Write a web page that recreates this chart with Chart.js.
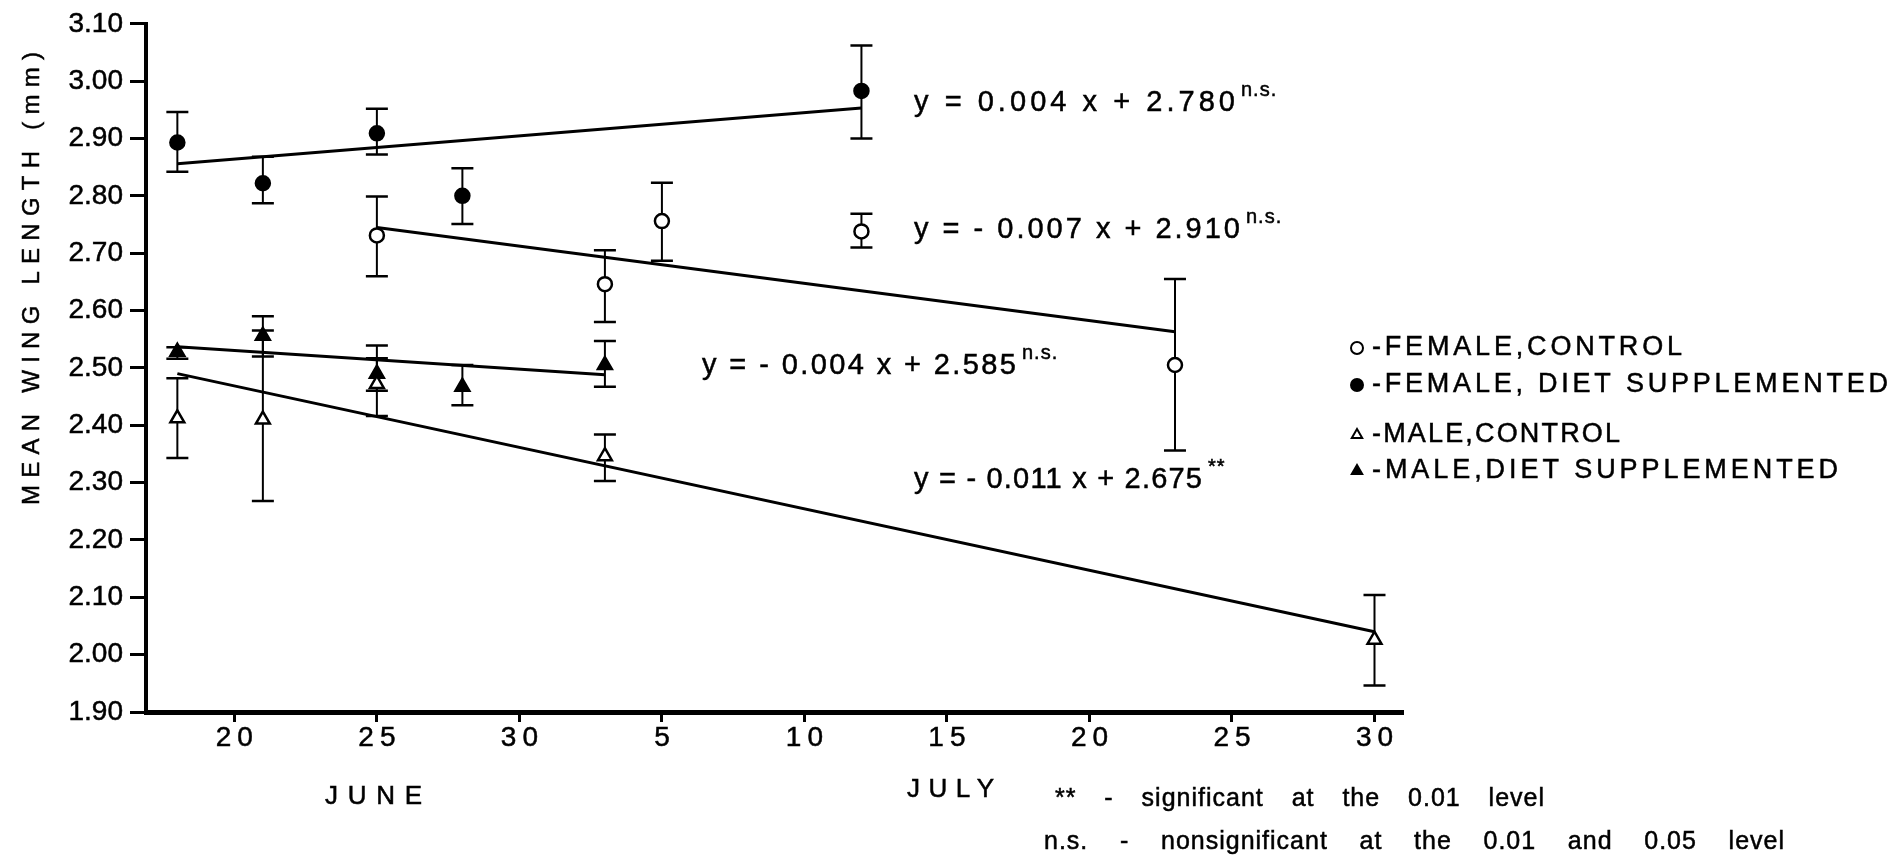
<!DOCTYPE html>
<html>
<head>
<meta charset="utf-8">
<script src="https://cdn.jsdelivr.net/npm/chart.js@4.4.1/dist/chart.umd.min.js"></script>
<style>
  html, body { margin: 0; padding: 0; background: #fff; }
  #wrap { position: relative; width: 1898px; height: 858px; }
</style>
</head>
<body>
<div id="wrap"><canvas id="wing"></canvas></div>
<script>
// days counted from 1 June (so 3 July = 33)
const femaleControlDays = [25, 33, 35, 42, 53];
const femaleControlMean = [2.731, 2.646, 2.756, 2.738, 2.505];
const femaleControlLo   = [2.660, 2.580, 2.687, 2.710, 2.356];
const femaleControlHi   = [2.799, 2.705, 2.823, 2.769, 2.655];

const femaleDietDays = [18, 21, 25, 28, 42];
const femaleDietMean = [2.893, 2.822, 2.909, 2.800, 2.983];
const femaleDietLo   = [2.842, 2.787, 2.872, 2.751, 2.900];
const femaleDietHi   = [2.946, 2.868, 2.952, 2.848, 3.062];

const maleControlDays = [18, 21, 25, 33, 60];
const maleControlMean = [2.412, 2.410, 2.472, 2.346, 2.026];
const maleControlLo   = [2.343, 2.268, 2.416, 2.303, 1.946];
const maleControlHi   = [2.482, 2.565, 2.539, 2.384, 2.104];

const maleDietDays = [18, 21, 25, 28, 33];
const maleDietMean = [2.528, 2.556, 2.490, 2.467, 2.505];
const maleDietLo   = [2.516, 2.520, 2.460, 2.435, 2.467];
const maleDietHi   = [2.536, 2.590, 2.517, 2.505, 2.547];

// fitted lines: [start day, end day] and [start value, end value]
const femaleDietFitDays = [18, 42];
const femaleDietFitVals = [2.856, 2.953];
const femaleControlFitDays = [25, 53];
const femaleControlFitVals = [2.745, 2.563];
const maleDietFitDays = [18, 33];
const maleDietFitVals = [2.537, 2.488];
const maleControlFitDays = [18, 60];
const maleControlFitVals = [2.490, 2.040];

const seriesNames = ['FEMALE,CONTROL', 'FEMALE, DIET SUPPLEMENTED', 'MALE,CONTROL', 'MALE,DIET SUPPLEMENTED'];
const fitEquations = ['y = - 0.007 x + 2.910', 'y = 0.004 x + 2.780', 'y = - 0.011 x + 2.675', 'y = - 0.004 x + 2.585'];
const fitSignif = ['n.s.', 'n.s.', '**', 'n.s.'];

const xTickDays = [20, 25, 30, 35, 40, 45, 50, 55, 60];
const xTickLabels = ['20', '25', '30', '5', '10', '15', '20', '25', '30'];
const yTickLabels = ['1.90', '2.00', '2.10', '2.20', '2.30', '2.40', '2.50', '2.60', '2.70', '2.80', '2.90', '3.00', '3.10'];
const monthNames = ['JUNE', 'JULY'];
const footnotes = ['** - significant at the 0.01 level', 'n.s. - nonsignificant at the 0.01 and 0.05 level'];
const yTitle = 'MEAN WING LENGTH (mm)';

const FONT = "'Liberation Sans', Arial, sans-serif";

const series = [
  { days: femaleControlDays, mean: femaleControlMean, lo: femaleControlLo, hi: femaleControlHi, style: 'circle', filled: false, r: 7 },
  { days: femaleDietDays, mean: femaleDietMean, lo: femaleDietLo, hi: femaleDietHi, style: 'circle', filled: true, r: 7 },
  { days: maleControlDays, mean: maleControlMean, lo: maleControlLo, hi: maleControlHi, style: 'triangle', filled: false, r: 8 },
  { days: maleDietDays, mean: maleDietMean, lo: maleDietLo, hi: maleDietHi, style: 'triangle', filled: true, r: 8 },
];
const fits = [
  [femaleControlFitDays, femaleControlFitVals],
  [femaleDietFitDays, femaleDietFitVals],
  [maleControlFitDays, maleControlFitVals],
  [maleDietFitDays, maleDietFitVals],
];

const pointSets = series.map(s => ({
  data: s.days.map((d, i) => ({ x: d, y: s.mean[i] })),
  pointStyle: s.style,
  pointRadius: s.r,
  pointBackgroundColor: s.filled ? '#000' : '#fff',
  pointBorderColor: '#000',
  pointBorderWidth: 2.5,
  showLine: false,
}));
const lineSets = fits.map(([d, v]) => ({
  data: d.map((x, i) => ({ x, y: v[i] })),
  showLine: true,
  borderColor: '#000',
  borderWidth: 3,
  pointRadius: 0,
  fill: false,
}));

// filled and lightly stroked so the lettering reads like pen work
function inkText(ctx, text, x, y) {
  ctx.fillText(text, x, y);
  ctx.lineWidth = 0.5;
  ctx.strokeStyle = '#000';
  ctx.strokeText(text, x, y);
}

// left-aligned text stretched to a given width, by letters or by word gaps
function fitText(ctx, text, x, y, width, byWords) {
  ctx.letterSpacing = '0px';
  ctx.wordSpacing = '0px';
  if (byWords) {
    const n = (text.match(/ /g) || []).length || 1;
    ctx.letterSpacing = '1px';
    const w1 = ctx.measureText(text).width;
    ctx.wordSpacing = ((width - w1) / n) + 'px';
  } else {
    const w0 = ctx.measureText(text).width;
    ctx.letterSpacing = ((width - w0) / Math.max(1, text.length - 1)) + 'px';
  }
  inkText(ctx, text, x, y);
  ctx.letterSpacing = '0px';
  ctx.wordSpacing = '0px';
}

function spacedCentered(ctx, text, cx, y, spacing) {
  ctx.letterSpacing = spacing + 'px';
  const w = ctx.measureText(text).width - spacing;
  ctx.textAlign = 'left';
  inkText(ctx, text, cx - w / 2, y);
  ctx.letterSpacing = '0px';
}

const errorBars = {
  id: 'errorBars',
  beforeDatasetsDraw(chart) {
    const { ctx, scales: { x, y } } = chart;
    ctx.save();
    ctx.strokeStyle = '#000';
    series.forEach(s => {
      s.days.forEach((d, i) => {
        const px = x.getPixelForValue(d);
        const pLo = y.getPixelForValue(s.lo[i]);
        const pHi = y.getPixelForValue(s.hi[i]);
        ctx.lineWidth = 2;
        ctx.beginPath();
        ctx.moveTo(px, pLo);
        ctx.lineTo(px, pHi);
        ctx.stroke();
        ctx.lineWidth = 2.5;
        ctx.beginPath();
        ctx.moveTo(px - 11, pLo); ctx.lineTo(px + 11, pLo);
        ctx.moveTo(px - 11, pHi); ctx.lineTo(px + 11, pHi);
        ctx.stroke();
      });
    });
    ctx.restore();
  }
};

const annotations = {
  id: 'annotations',
  afterDraw(chart) {
    const { ctx, scales: { x } } = chart;
    ctx.save();
    ctx.fillStyle = '#000';
    ctx.textBaseline = 'middle';
    ctx.textAlign = 'left';

    // y axis title, rotated
    ctx.save();
    ctx.translate(32, 505);
    ctx.rotate(-Math.PI / 2);
    ctx.font = `24px ${FONT}`;
    fitText(ctx, yTitle, 0, 0, 453, false);
    ctx.restore();

    // x tick labels
    ctx.font = `28px ${FONT}`;
    xTickDays.forEach((d, i) => spacedCentered(ctx, xTickLabels[i], x.getPixelForValue(d), 738, 6));

    // month names
    ctx.font = `26px ${FONT}`;
    fitText(ctx, monthNames[0], 325, 797, 97, false);
    fitText(ctx, monthNames[1], 907, 790, 87, false);

    // regression equations with significance marks
    const eqPos = [
      { x: 914, y: 230, w: 326 },
      { x: 914, y: 103, w: 321 },
      { x: 914, y: 480, w: 288 },
      { x: 702, y: 366, w: 314 },
    ];
    fitEquations.forEach((eq, i) => {
      const p = eqPos[i];
      ctx.font = `29px ${FONT}`;
      fitText(ctx, eq, p.x, p.y, p.w, false);
      ctx.font = `20px ${FONT}`;
      ctx.letterSpacing = '1px';
      inkText(ctx, fitSignif[i], p.x + p.w + 6, p.y - 13);
      ctx.letterSpacing = '0px';
    });

    // legend
    const legY = [348, 385, 435, 471];
    const legW = [310, 516, 248, 466];
    series.forEach((s, i) => {
      ctx.fillStyle = s.filled ? '#000' : '#fff';
      ctx.strokeStyle = '#000';
      ctx.lineWidth = 2;
      Chart.helpers.drawPoint(ctx, { pointStyle: s.style, radius: 6, borderWidth: 2, rotation: 0 }, 1357, legY[i]);
      ctx.fillStyle = '#000';
      ctx.font = `27px ${FONT}`;
      fitText(ctx, '-' + seriesNames[i], 1372, legY[i], legW[i], false);
    });

    // footnotes
    ctx.font = `25px ${FONT}`;
    fitText(ctx, footnotes[0], 1055, 799, 490, true);
    fitText(ctx, footnotes[1], 1044, 842, 741, true);

    ctx.restore();
  }
};

Chart.defaults.font.family = FONT;
Chart.defaults.color = '#000';

new Chart(document.getElementById('wing'), {
  type: 'scatter',
  data: { datasets: [...pointSets, ...lineSets] },
  options: {
    responsive: true,
    maintainAspectRatio: false,
    animation: false,
    layout: { padding: { top: 23, right: 495, left: 0, bottom: 0 } },
    plugins: { legend: { display: false }, tooltip: { enabled: false } },
    scales: {
      x: {
        type: 'linear',
        min: 16.9,
        max: 61,
        afterBuildTicks: s => { s.ticks = xTickDays.map(v => ({ value: v })); },
        afterFit: s => { s.height = 146; },
        ticks: { display: false },
        grid: { display: true, drawOnChartArea: false, drawTicks: true, tickLength: 10, tickWidth: 3, tickColor: '#000' },
        border: { display: true, width: 5, color: '#000' },
      },
      y: {
        type: 'linear',
        min: 1.9,
        max: 3.1,
        afterBuildTicks: s => { s.ticks = yTickLabels.map(v => ({ value: parseFloat(v) })); },
        afterFit: s => { s.width = 146; },
        ticks: {
          padding: 7,
          font: { size: 28, family: FONT },
          color: '#000',
          textStrokeColor: '#000',
          textStrokeWidth: 0.5,
          autoSkip: false,
          callback: (v, i) => yTickLabels[i],
        },
        grid: { display: true, drawOnChartArea: false, drawTicks: true, tickLength: 16, tickWidth: 3, tickColor: '#000' },
        border: { display: true, width: 4, color: '#000' },
      },
    },
  },
  plugins: [errorBars, annotations],
});
</script>
</body>
</html>
